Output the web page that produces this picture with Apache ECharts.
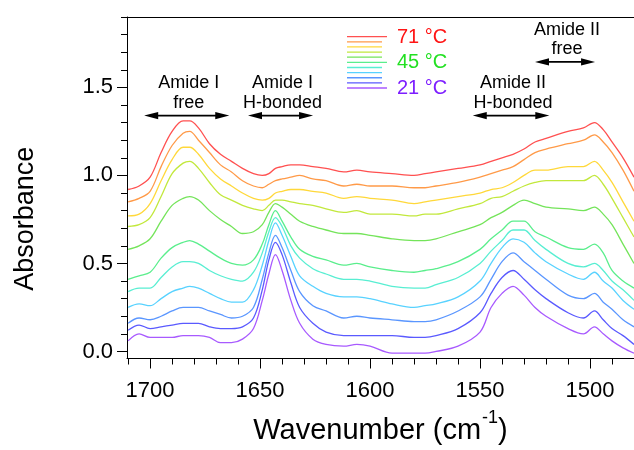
<!DOCTYPE html>
<html>
<head>
<meta charset="utf-8">
<script src="https://cdn.jsdelivr.net/npm/echarts@6/dist/echarts.min.js"></script>
<style>
  html, body { margin: 0; padding: 0; background: #fff; }
  #chart { width: 634px; height: 450px; }
</style>
</head>
<body>
<div id="chart"></div>
<script>
// FTIR absorbance spectra, amide I / amide II region, heated from 21 °C to 71 °C
const wavenumbers = [1710, 1705, 1700, 1695, 1690, 1685, 1682, 1678, 1673, 1668, 1663, 1658, 1653, 1649, 1646,
  1643, 1640, 1636, 1632, 1626, 1620, 1612, 1606, 1600, 1590, 1580, 1575, 1570, 1560, 1550,
  1545, 1540, 1535, 1530, 1525, 1520, 1510, 1503, 1498, 1494, 1490, 1485, 1480];

// absorbance traces, hottest first
const abs71 = [0.92, 0.94, 0.99, 1.13, 1.25, 1.31, 1.31, 1.27, 1.18, 1.12, 1.08, 1.04, 1.01, 1.00, 1.01, 1.04, 1.05, 1.06, 1.06, 1.05, 1.04, 1.02, 1.03, 1.02, 1.01, 1.00, 1.01, 1.02, 1.04, 1.06, 1.08, 1.10, 1.12, 1.15, 1.19, 1.21, 1.25, 1.27, 1.30, 1.26, 1.19, 1.10, 0.99];
const absT2 = [0.85, 0.87, 0.91, 1.05, 1.17, 1.24, 1.25, 1.20, 1.13, 1.06, 1.02, 0.97, 0.94, 0.93, 0.95, 0.97, 0.98, 0.99, 1.00, 0.98, 0.97, 0.94, 0.95, 0.94, 0.94, 0.93, 0.93, 0.94, 0.96, 0.99, 1.01, 1.03, 1.05, 1.09, 1.13, 1.15, 1.18, 1.20, 1.23, 1.19, 1.13, 1.03, 0.91];
const absT3 = [0.77, 0.78, 0.84, 0.97, 1.09, 1.16, 1.16, 1.12, 1.04, 0.98, 0.94, 0.90, 0.87, 0.86, 0.87, 0.90, 0.91, 0.92, 0.92, 0.91, 0.90, 0.87, 0.88, 0.87, 0.86, 0.84, 0.85, 0.86, 0.88, 0.90, 0.92, 0.93, 0.96, 1.00, 1.03, 1.03, 1.05, 1.05, 1.08, 1.03, 0.96, 0.85, 0.74];
const absT4 = [0.71, 0.72, 0.76, 0.88, 1.01, 1.07, 1.08, 1.04, 0.96, 0.89, 0.86, 0.83, 0.81, 0.80, 0.83, 0.86, 0.86, 0.85, 0.84, 0.83, 0.81, 0.79, 0.80, 0.78, 0.78, 0.77, 0.78, 0.78, 0.81, 0.84, 0.87, 0.88, 0.91, 0.94, 0.96, 0.97, 0.97, 0.97, 1.00, 0.95, 0.87, 0.76, 0.65];
const absT5 = [0.58, 0.60, 0.64, 0.74, 0.83, 0.87, 0.88, 0.86, 0.80, 0.75, 0.71, 0.67, 0.68, 0.72, 0.79, 0.84, 0.82, 0.78, 0.74, 0.71, 0.69, 0.67, 0.67, 0.66, 0.64, 0.63, 0.63, 0.64, 0.68, 0.72, 0.76, 0.79, 0.83, 0.86, 0.84, 0.82, 0.81, 0.80, 0.82, 0.78, 0.72, 0.61, 0.50];
const abs45 = [0.41, 0.43, 0.45, 0.53, 0.59, 0.62, 0.63, 0.61, 0.57, 0.53, 0.50, 0.49, 0.52, 0.61, 0.72, 0.80, 0.74, 0.65, 0.58, 0.54, 0.52, 0.49, 0.50, 0.48, 0.46, 0.45, 0.46, 0.47, 0.51, 0.58, 0.64, 0.69, 0.74, 0.74, 0.68, 0.65, 0.59, 0.58, 0.61, 0.56, 0.46, 0.40, 0.36];
const absT7 = [0.34, 0.36, 0.36, 0.42, 0.48, 0.51, 0.51, 0.50, 0.46, 0.43, 0.41, 0.40, 0.45, 0.56, 0.68, 0.76, 0.71, 0.60, 0.53, 0.47, 0.44, 0.41, 0.41, 0.40, 0.37, 0.36, 0.36, 0.38, 0.42, 0.50, 0.57, 0.63, 0.69, 0.69, 0.63, 0.58, 0.50, 0.48, 0.50, 0.46, 0.40, 0.35, 0.29];
const absT8 = [0.25, 0.27, 0.26, 0.30, 0.34, 0.36, 0.37, 0.36, 0.33, 0.30, 0.28, 0.28, 0.35, 0.49, 0.63, 0.73, 0.66, 0.54, 0.43, 0.37, 0.33, 0.31, 0.31, 0.30, 0.27, 0.25, 0.26, 0.27, 0.31, 0.40, 0.50, 0.59, 0.64, 0.62, 0.56, 0.51, 0.44, 0.41, 0.45, 0.40, 0.36, 0.29, 0.24];
const absT9 = [0.16, 0.19, 0.18, 0.20, 0.23, 0.25, 0.25, 0.25, 0.23, 0.21, 0.19, 0.20, 0.25, 0.41, 0.56, 0.66, 0.59, 0.46, 0.34, 0.26, 0.23, 0.19, 0.20, 0.19, 0.18, 0.17, 0.17, 0.18, 0.23, 0.31, 0.41, 0.51, 0.56, 0.51, 0.46, 0.41, 0.32, 0.30, 0.33, 0.28, 0.24, 0.18, 0.14];
const absT10 = [0.12, 0.15, 0.13, 0.14, 0.15, 0.16, 0.16, 0.16, 0.14, 0.13, 0.13, 0.14, 0.19, 0.35, 0.52, 0.62, 0.55, 0.39, 0.25, 0.16, 0.11, 0.09, 0.09, 0.09, 0.09, 0.08, 0.08, 0.09, 0.13, 0.22, 0.33, 0.42, 0.46, 0.41, 0.35, 0.30, 0.22, 0.19, 0.23, 0.18, 0.13, 0.09, 0.04];
const abs21 = [0.06, 0.10, 0.08, 0.08, 0.08, 0.09, 0.09, 0.09, 0.08, 0.05, 0.05, 0.07, 0.13, 0.29, 0.44, 0.55, 0.46, 0.29, 0.16, 0.07, 0.04, 0.03, 0.04, 0.03, -0.01, -0.01, -0.01, 0.00, 0.03, 0.11, 0.25, 0.33, 0.37, 0.32, 0.25, 0.20, 0.13, 0.10, 0.14, 0.10, 0.06, 0.02, -0.01];

const traces = [abs71, absT2, absT3, absT4, absT5, abs45, absT7, absT8, absT9, absT10, abs21];
const traceColors = ['#ff5050', '#ff9a48', '#ffd83a', '#c2e83c', '#74e45a', '#5aee8c', '#58eed2', '#58d2ff', '#5a96ff', '#5a5aff', '#a85aff'];
// legend: only the first, middle and last temperatures carry a label
const legendLabels = ['71 °C', null, null, null, null, '45 °C', null, null, null, null, '21 °C'];
const legendLabelColors = { 0: '#ff1414', 5: '#22e022', 10: '#7d1eff' };

const xMajorTicks = [1500, 1550, 1600, 1650, 1700];
const xMinorTicks = [1480, 1490, 1500, 1510, 1520, 1530, 1540, 1550, 1560, 1570, 1580, 1590, 1600, 1610, 1620, 1630, 1640, 1650, 1660, 1670, 1680, 1690, 1700, 1710];
const yMajorTicks = [0, 0.5, 1.0, 1.5];
const yMinorTicks = [0, 0.1, 0.2, 0.3, 0.4, 0.5, 0.6, 0.7, 0.8, 0.9, 1.0, 1.1, 1.2, 1.3, 1.4, 1.5, 1.6, 1.7, 1.8, 1.9];

// band annotations: two text lines, arrow from/to wavenumber, arrow height (absorbance)
const bandNames = [['Amide I', 'free'], ['Amide I', 'H-bonded'], ['Amide II', 'H-bonded'], ['Amide II', 'free']];
const bandFrom = [1702.7, 1655.5, 1553.3, 1525.0];
const bandTo = [1664.0, 1625.9, 1518.5, 1497.7];
const bandLevel = [1.34, 1.34, 1.34, 1.645];

const FONT = '"Liberation Sans", Arial, Helvetica, sans-serif';
const X_MIN = 1480, X_MAX = 1710.5, Y_MIN = -0.04, Y_MAX = 1.9;

const chart = echarts.init(document.getElementById('chart'), null, { renderer: 'canvas' });

const series = traces.map((vals, i) => ({
  type: 'line',
  name: 'trace' + i,
  xAxisIndex: 0,
  yAxisIndex: 0,
  data: wavenumbers.map((w, k) => [w, vals[k]]),
  smooth: 0.35,
  showSymbol: false,
  symbol: 'none',
  clip: true,
  z: 3 + (traces.length - i),
  lineStyle: { color: traceColors[i], width: 1.3 },
  emphasis: { disabled: true },
  silent: true
}));

const blackLine = { color: '#000', width: 1 };
const hiddenLine = { color: 'rgba(0,0,0,0)', width: 1 };

chart.setOption({
  animation: false,
  backgroundColor: '#fff',
  grid: { left: 127, right: 0, top: 17, bottom: 88, containLabel: false },
  xAxis: [
    {
      type: 'value', inverse: true, min: X_MIN, max: X_MAX, position: 'bottom',
      axisLine: { show: true, onZero: false, lineStyle: blackLine },
      axisTick: { show: true, inside: false, length: 10, customValues: xMajorTicks, lineStyle: blackLine },
      axisLabel: { customValues: xMajorTicks, fontSize: 22, color: '#000', fontFamily: FONT, margin: 21,
        formatter: v => String(v) },
      splitLine: { show: false },
      name: '{n|Wavenumber (cm}{s|-1}{n|)}',
      nameLocation: 'middle',
      nameGap: 51,
      nameTextStyle: {
        rich: {
          n: { fontSize: 29, fontFamily: FONT, color: '#000' },
          s: { fontSize: 18, fontFamily: FONT, color: '#000', padding: [0, 0, 24, 1] }
        }
      }
    },
    {
      type: 'value', inverse: true, min: X_MIN, max: X_MAX, position: 'bottom',
      axisLine: { show: true, onZero: false, lineStyle: hiddenLine },
      axisTick: { show: true, inside: false, length: 6, customValues: xMinorTicks, lineStyle: blackLine },
      axisLabel: { show: false },
      splitLine: { show: false }
    },
    {
      type: 'value', inverse: true, min: X_MIN, max: X_MAX, position: 'top',
      axisLine: { show: true, onZero: false, lineStyle: blackLine },
      axisTick: { show: false }, axisLabel: { show: false }, splitLine: { show: false }
    }
  ],
  yAxis: [
    {
      type: 'value', min: Y_MIN, max: Y_MAX, position: 'left',
      axisLine: { show: true, onZero: false, lineStyle: blackLine },
      axisTick: { show: true, inside: false, length: 10, customValues: yMajorTicks, lineStyle: blackLine },
      axisLabel: {
        customValues: yMajorTicks, fontSize: 22, color: '#000', fontFamily: FONT, margin: 14,
        padding: [6, 0, 0, 0],
        formatter: v => Number(v).toFixed(1)
      },
      splitLine: { show: false },
      name: 'Absorbance',
      nameLocation: 'middle',
      nameRotate: 90,
      nameGap: 88,
      nameTextStyle: { fontSize: 27, fontFamily: FONT, color: '#000', padding: [0, 62, 0, 0] }
    },
    {
      type: 'value', min: Y_MIN, max: Y_MAX, position: 'left',
      axisLine: { show: true, onZero: false, lineStyle: hiddenLine },
      axisTick: { show: true, inside: false, length: 6, customValues: yMinorTicks, lineStyle: blackLine },
      axisLabel: { show: false },
      splitLine: { show: false }
    }
  ],
  series: series
});

// annotation arrows, band labels and the temperature key
function toPx(w, a) { return chart.convertToPixel({ xAxisIndex: 0, yAxisIndex: 0 }, [w, a]); }

const graphics = [];
const HEAD_LEN = 14, HEAD_HALF = 3.6;
bandNames.forEach((lines, i) => {
  const p1 = toPx(bandFrom[i], bandLevel[i]);
  const p2 = toPx(bandTo[i], bandLevel[i]);
  const y = p1[1];
  const xl = Math.min(p1[0], p2[0]), xr = Math.max(p1[0], p2[0]);
  graphics.push({ type: 'line', silent: true, z: 20,
    shape: { x1: xl + HEAD_LEN - 2, y1: y, x2: xr - HEAD_LEN + 2, y2: y },
    style: { stroke: '#000', lineWidth: 1.6 } });
  graphics.push({ type: 'polygon', silent: true, z: 20,
    shape: { points: [[xl, y], [xl + HEAD_LEN, y - HEAD_HALF], [xl + HEAD_LEN, y + HEAD_HALF]] },
    style: { fill: '#000' } });
  graphics.push({ type: 'polygon', silent: true, z: 20,
    shape: { points: [[xr, y], [xr - HEAD_LEN, y - HEAD_HALF], [xr - HEAD_LEN, y + HEAD_HALF]] },
    style: { fill: '#000' } });
  graphics.push({ type: 'text', silent: true, z: 20,
    x: (xl + xr) / 2 + 2, y: y - 3,
    style: { text: lines.join('\n'), font: '18px ' + FONT, fill: '#000',
      align: 'center', verticalAlign: 'bottom', lineHeight: 19.5 } });
});

const KEY_X = 347, KEY_Y0 = 36.7, KEY_STEP = 5.13;
traces.forEach((_, i) => {
  const y = KEY_Y0 + i * KEY_STEP;
  const labelled = legendLabels[i] !== null;
  graphics.push({ type: 'line', silent: true, z: 20,
    shape: { x1: KEY_X, y1: y, x2: KEY_X + (labelled ? 40 : 35), y2: y },
    style: { stroke: traceColors[i], lineWidth: 1.3 } });
  if (labelled) {
    graphics.push({ type: 'text', silent: true, z: 20, x: 397, y: y + 0.5,
      style: { text: legendLabels[i], font: '20px ' + FONT, fill: legendLabelColors[i],
        align: 'left', verticalAlign: 'middle' } });
  }
});

chart.setOption({ graphic: graphics });
</script>
</body>
</html>
